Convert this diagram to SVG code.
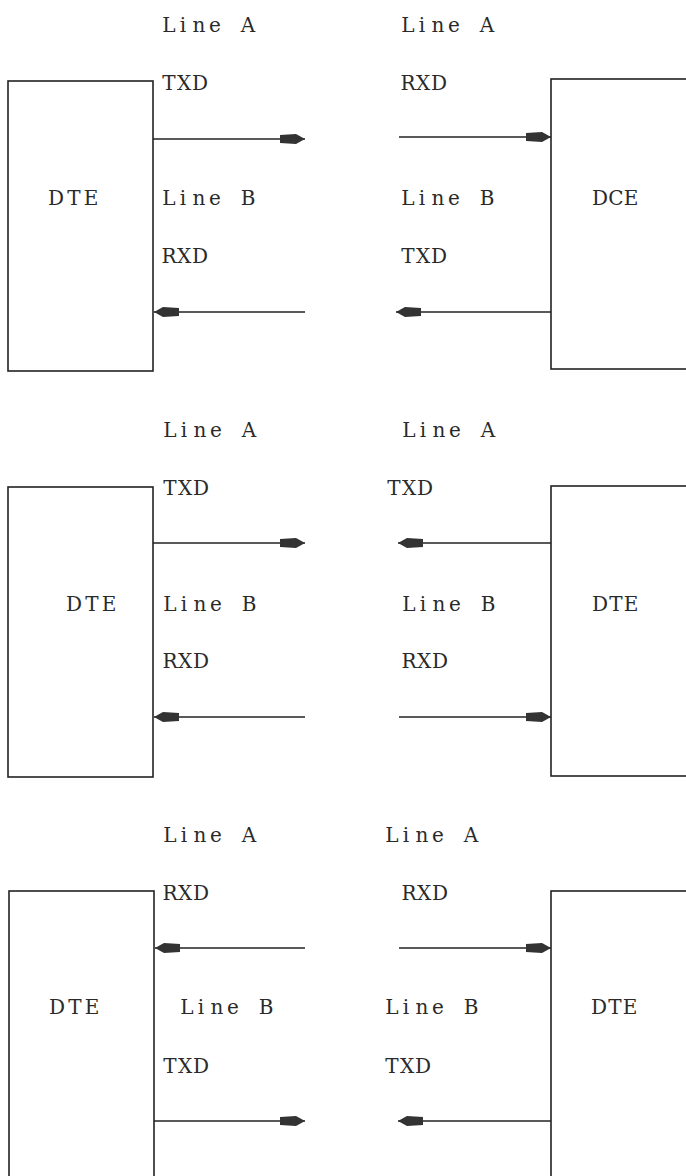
<svg xmlns="http://www.w3.org/2000/svg" width="686" height="1176" viewBox="0 0 686 1176">
<style>
.box{fill:none;stroke:#222;stroke-width:1.6}
.wire{stroke:#222;stroke-width:1.6;fill:none;marker-end:url(#ah)}
text{font-family:"DejaVu Serif","Liberation Serif",serif;font-size:20px;text-anchor:middle;fill:#2a2a2a}
</style>
<defs>
<marker id="ah" markerUnits="userSpaceOnUse" viewBox="-26 -6 27 12" refX="0" refY="0" markerWidth="27" markerHeight="12" orient="auto">
<path d="M0,0 L-9,-5 L-25,-4 L-25,4 L-9,5 Z" fill="#333"/>
</marker>
</defs>
<rect width="686" height="1176" fill="#fff"/>
<g id="p1-left"><rect class="box" x="8" y="81" width="145" height="290"/><text x="56 74 91" y="205">DTE</text></g>
<g id="p1-right"><rect class="box" x="551" y="79" width="160" height="290"/><text x="600 616 631" y="205">DCE</text></g>
<g id="p2-left"><rect class="box" x="8" y="487" width="145" height="290"/><text x="74 92 109" y="611">DTE</text></g>
<g id="p2-right"><rect class="box" x="551" y="486" width="160" height="290"/><text x="600 616 631" y="611">DTE</text></g>
<g id="p3-left"><rect class="box" x="9" y="891" width="145" height="300"/><text x="57 75 92" y="1014">DTE</text></g>
<g id="p3-right"><rect class="box" x="551" y="891" width="160" height="300"/><text x="599 615 630" y="1014">DTE</text></g>
<g id="labels">
<text x="169 183 199 215 232 248" y="32">Line A</text>
<text x="169 184 200" y="90">TXD</text>
<text x="169 183 199 215 232 248" y="205">Line B</text>
<text x="169 184 200" y="263">RXD</text>
<text x="408 422 438 454 471 487" y="32">Line A</text>
<text x="408 423 439" y="90">RXD</text>
<text x="408 422 438 454 471 487" y="205">Line B</text>
<text x="408 423 439" y="263">TXD</text>
<text x="170 184 200 216 233 249" y="437">Line A</text>
<text x="170 185 201" y="495">TXD</text>
<text x="170 184 200 216 233 249" y="611">Line B</text>
<text x="170 185 201" y="668">RXD</text>
<text x="409 423 439 455 472 488" y="437">Line A</text>
<text x="394 409 425" y="495">TXD</text>
<text x="409 423 439 455 472 488" y="611">Line B</text>
<text x="409 424 440" y="668">RXD</text>
<text x="170 184 200 216 233 249" y="842">Line A</text>
<text x="170 185 201" y="900">RXD</text>
<text x="187 201 217 233 250 266" y="1014">Line B</text>
<text x="170 185 201" y="1073">TXD</text>
<text x="392 406 422 438 455 471" y="842">Line A</text>
<text x="409 424 440" y="900">RXD</text>
<text x="392 406 422 438 455 471" y="1014">Line B</text>
<text x="392 407 423" y="1073">TXD</text>
</g>
<g id="connectors">
<path class="wire" d="M153,139 H305"/>
<path class="wire" d="M399,137 H551"/>
<path class="wire" d="M305,312 H154"/>
<path class="wire" d="M551,312 H396"/>
<path class="wire" d="M153,543 H305"/>
<path class="wire" d="M551,543 H398"/>
<path class="wire" d="M305,717 H154"/>
<path class="wire" d="M399,717 H551"/>
<path class="wire" d="M305,948 H155"/>
<path class="wire" d="M399,948 H551"/>
<path class="wire" d="M154,1121 H305"/>
<path class="wire" d="M551,1121 H398"/>
</g>
</svg>
